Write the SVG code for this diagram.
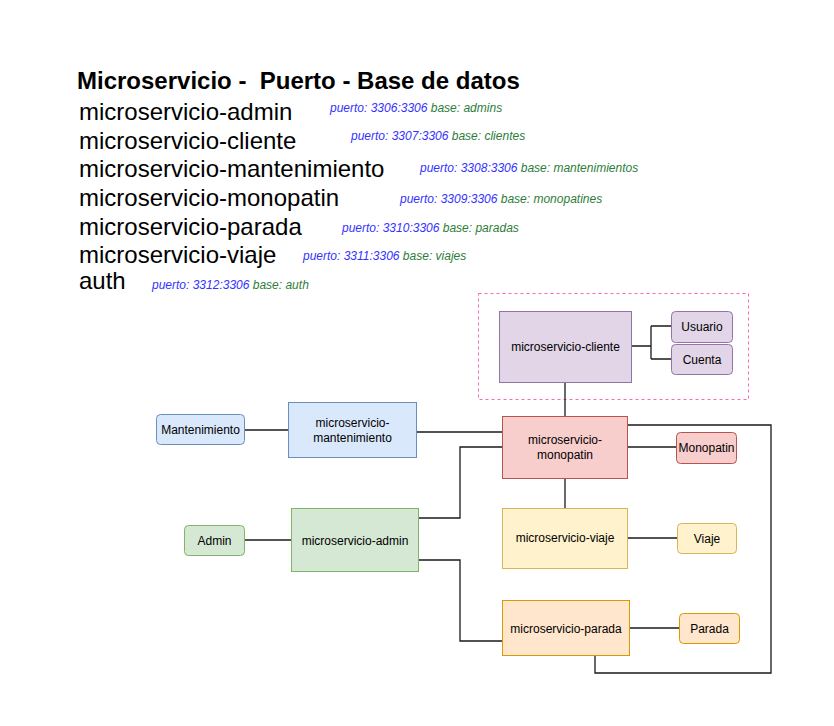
<svg xmlns="http://www.w3.org/2000/svg" width="834" height="726" viewBox="0 0 834 726">
<style>
text{font-family:"Liberation Sans",Arial,sans-serif;fill:#000}
.title{font-size:24px;font-weight:bold;white-space:pre}
.item{font-size:24px}
.sm{font-size:12px;font-style:italic}
.p{fill:#3333ff}
.b{fill:#2d7d3a}
.lbl{font-size:12px;text-anchor:middle;dominant-baseline:central}
.e{fill:none;stroke:#1a1a1a;stroke-width:1.3}
</style>
<rect width="834" height="726" fill="#fff"/>
<g id="legend">
<text class="title" x="77" y="89" xml:space="preserve">Microservicio -  Puerto - Base de datos</text>
<text class="item" x="79" y="120">microservicio-admin</text>
<text class="item" x="79" y="149">microservicio-cliente</text>
<text class="item" x="79" y="177">microservicio-mantenimiento</text>
<text class="item" x="79" y="206">microservicio-monopatin</text>
<text class="item" x="79" y="235">microservicio-parada</text>
<text class="item" x="79" y="263">microservicio-viaje</text>
<text class="item" x="79" y="289">auth</text>
<text class="sm" x="330" y="112"><tspan class="p">puerto: 3306:3306</tspan><tspan class="b"> base: admins</tspan></text>
<text class="sm" x="351" y="140"><tspan class="p">puerto: 3307:3306</tspan><tspan class="b"> base: clientes</tspan></text>
<text class="sm" x="420" y="172"><tspan class="p">puerto: 3308:3306</tspan><tspan class="b"> base: mantenimientos</tspan></text>
<text class="sm" x="400" y="203"><tspan class="p">puerto: 3309:3306</tspan><tspan class="b"> base: monopatines</tspan></text>
<text class="sm" x="342" y="232"><tspan class="p">puerto: 3310:3306</tspan><tspan class="b"> base: paradas</tspan></text>
<text class="sm" x="303" y="260"><tspan class="p">puerto: 3311:3306</tspan><tspan class="b"> base: viajes</tspan></text>
<text class="sm" x="152" y="289"><tspan class="p">puerto: 3312:3306</tspan><tspan class="b"> base: auth</tspan></text>
</g>
<g id="group-cliente">
<rect x="478.5" y="293.5" width="270" height="106" fill="none" stroke="#ff66b3" stroke-dasharray="3 3"/>
</g>
<g id="connectors">
<path class="e" d="M631 346H651M651 326V359M651 326H671M651 359H671"/>
<path class="e" d="M565 382V416"/>
<path class="e" d="M627 447H676"/>
<path class="e" d="M244 430H288"/>
<path class="e" d="M416 432H502"/>
<path class="e" d="M244 540H291"/>
<path class="e" d="M418 518H460V447H502"/>
<path class="e" d="M418 560H460V641H502"/>
<path class="e" d="M565 478V508"/>
<path class="e" d="M627 538H677"/>
<path class="e" d="M629 628H679"/>
<path class="e" d="M595 655V673H771V425H627"/>
</g>
<g id="microservicio-cliente">
<rect x="499.5" y="311.5" width="132" height="71" fill="#e1d5e7" stroke="#9673a6"/>
<text class="lbl" x="565.5" y="347">microservicio-cliente</text>
</g>
<g id="usuario">
<rect x="671.5" y="311.5" width="61" height="31" rx="4" fill="#e1d5e7" stroke="#9673a6"/>
<text class="lbl" x="702" y="327">Usuario</text>
</g>
<g id="cuenta">
<rect x="671.5" y="344.5" width="61" height="30" rx="4" fill="#e1d5e7" stroke="#9673a6"/>
<text class="lbl" x="702" y="360">Cuenta</text>
</g>
<g id="microservicio-monopatin">
<rect x="502.5" y="416.5" width="125" height="62" fill="#f8cecc" stroke="#b85450"/>
<text class="lbl" x="565" y="440">microservicio-</text>
<text class="lbl" x="565" y="455">monopatin</text>
</g>
<g id="monopatin">
<rect x="676.5" y="432.5" width="60" height="31" rx="4" fill="#f8cecc" stroke="#b85450"/>
<text class="lbl" x="706.5" y="448">Monopatin</text>
</g>
<g id="mantenimiento">
<rect x="156.5" y="414.5" width="88" height="30" rx="4" fill="#dae8fc" stroke="#6c8ebf"/>
<text class="lbl" x="200.5" y="430">Mantenimiento</text>
</g>
<g id="microservicio-mantenimiento">
<rect x="288.5" y="402.5" width="128" height="55" fill="#dae8fc" stroke="#6c8ebf"/>
<text class="lbl" x="352.5" y="423">microservicio-</text>
<text class="lbl" x="352.5" y="438">mantenimiento</text>
</g>
<g id="admin">
<rect x="184.5" y="525.5" width="60" height="30" rx="4" fill="#d5e8d4" stroke="#82b366"/>
<text class="lbl" x="214.5" y="541">Admin</text>
</g>
<g id="microservicio-admin">
<rect x="291.5" y="508.5" width="127" height="63" fill="#d5e8d4" stroke="#82b366"/>
<text class="lbl" x="355" y="541">microservicio-admin</text>
</g>
<g id="microservicio-viaje">
<rect x="502.5" y="508.5" width="125" height="60" fill="#fff2cc" stroke="#d6b656"/>
<text class="lbl" x="565" y="538">microservicio-viaje</text>
</g>
<g id="viaje">
<rect x="677.5" y="523.5" width="59" height="30" rx="4" fill="#fff2cc" stroke="#d6b656"/>
<text class="lbl" x="707" y="539">Viaje</text>
</g>
<g id="microservicio-parada">
<rect x="502.5" y="600.5" width="127" height="55" fill="#ffe6cc" stroke="#d79b00"/>
<text class="lbl" x="566" y="629">microservicio-parada</text>
</g>
<g id="parada">
<rect x="679.5" y="613.5" width="60" height="30" rx="4" fill="#ffe6cc" stroke="#d79b00"/>
<text class="lbl" x="709.5" y="629">Parada</text>
</g>
</svg>
